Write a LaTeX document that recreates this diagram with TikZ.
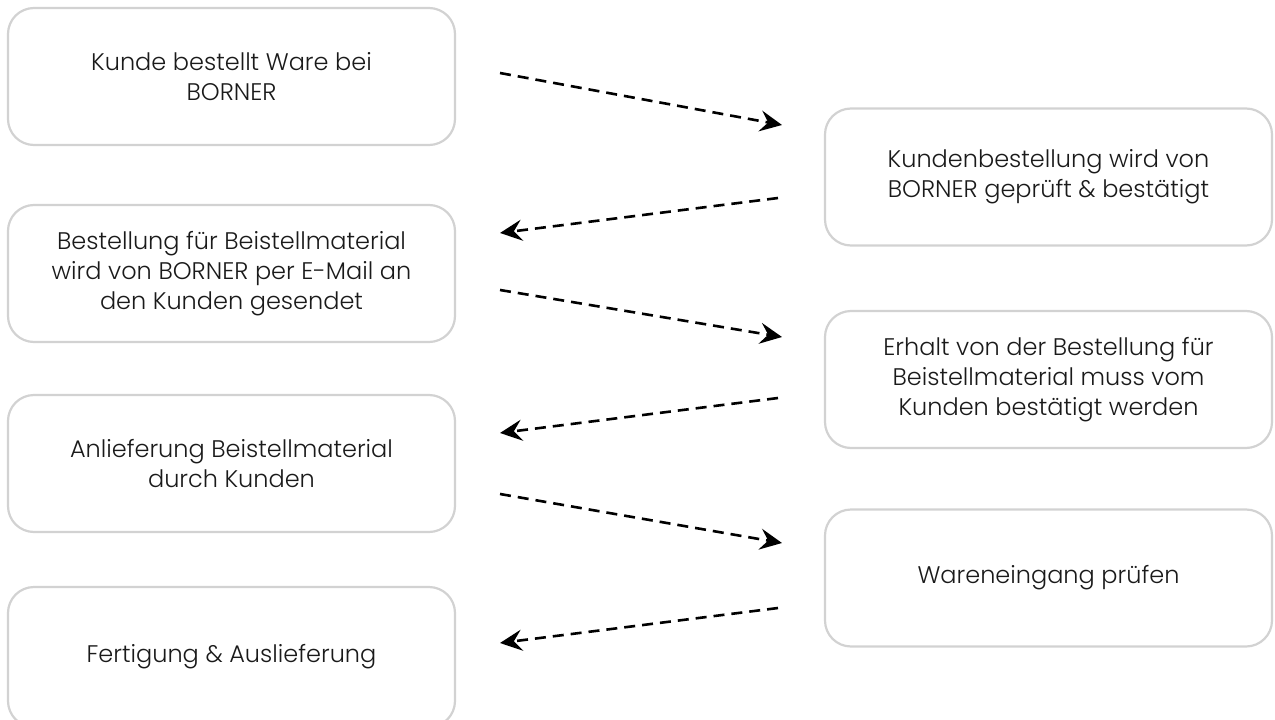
\documentclass[tikz,border=0pt]{standalone}
\usepackage{fontspec}
\IfFontExistsTF{Poppins Light}{\setmainfont{Poppins Light}}{\setmainfont{Poppins}}
\usetikzlibrary{arrows.meta}
\definecolor{boxgray}{HTML}{D2D2D2}
\definecolor{txt}{HTML}{1A1A1A}
\tikzset{
  stepbox/.style={draw=boxgray, line width=2.2pt, rounded corners=26pt, minimum width=447pt, minimum height=137pt, align=center, text=txt, font=\fontsize{24}{30}\selectfont, inner sep=0pt},
  flow/.style={line width=2.6pt, dash pattern=on 11pt off 7pt, -{Stealth[length=22pt,width=21pt,inset=8pt]}}
}
\begin{document}
\begin{tikzpicture}[x=1pt,y=-1pt]
\useasboundingbox (0,0) rectangle (1275,720);
\begin{scope}
\clip (0,0) rectangle (1275,720);
\node[stepbox] (l1) at (231.5,76.5) {Kunde bestellt Ware bei\\BORNER};
\node[stepbox] (l2) at (231.5,273.5) {Bestellung für Beistellmaterial\\wird von BORNER per E-Mail an\\den Kunden gesendet};
\node[stepbox] (l3) at (231.5,463.5) {Anlieferung Beistellmaterial\\durch Kunden};
\node[stepbox, minimum height=140pt] (l4) at (231.5,657) {Fertigung \& Auslieferung};
\node[stepbox] (r1) at (1048.5,177) {Kundenbestellung wird von\\BORNER geprüft \& bestätigt};
\node[stepbox] (r2) at (1048.5,379.5) {Erhalt von der Bestellung für\\Beistellmaterial muss vom\\Kunden bestätigt werden};
\node[stepbox] (r3) at (1048.5,578) {Wareneingang prüfen};
\end{scope}
\coordinate (a1s) at (500,73);  \coordinate (a1e) at (782,125);
\coordinate (a2s) at (778,198); \coordinate (a2e) at (500,233);
\coordinate (a3s) at (500,290); \coordinate (a3e) at (782,337);
\coordinate (a4s) at (778,398); \coordinate (a4e) at (500,433);
\coordinate (a5s) at (500,494); \coordinate (a5e) at (782,543);
\coordinate (a6s) at (778,608); \coordinate (a6e) at (500,643);
\draw[flow] (a1s) -- (a1e);
\draw[flow] (a2s) -- (a2e);
\draw[flow] (a3s) -- (a3e);
\draw[flow] (a4s) -- (a4e);
\draw[flow] (a5s) -- (a5e);
\draw[flow] (a6s) -- (a6e);
\end{tikzpicture}
\end{document}
